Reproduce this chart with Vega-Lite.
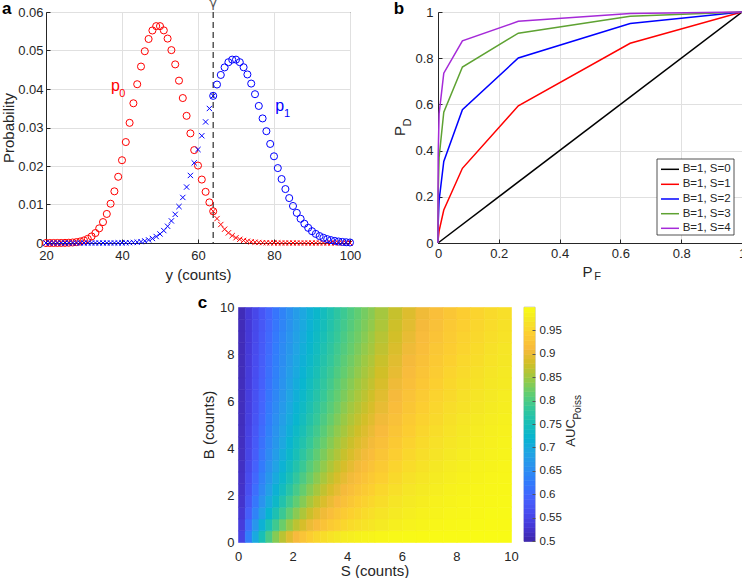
{
"$schema":"https://vega.github.io/schema/vega-lite/v6.json",
"background":"white",
"padding":{"left":0,"top":-4,"right":-3,"bottom":0},
"config":{
 "font":"Liberation Sans",
 "view":{"stroke":null},
 "axis":{"labelFont":"Liberation Sans","labelFontSize":13,"labelColor":"#262626","titleFont":"Liberation Sans","titleFontSize":15,"titleFontWeight":"normal","titleColor":"#262626","domainColor":"#262626","domainWidth":1,"tickColor":"#262626","gridColor":"#e0e0e0","gridWidth":1,"labelOverlap":false,"labelFlush":false},
 "text":{"font":"Liberation Sans"}
},
"datasets":{
"poi":[
{"y":20,"p0":0.0000008,"p1":0},{"y":21,"p0":0.0000018,"p1":0},{"y":22,"p0":0.0000041,"p1":0},{"y":23,"p0":0.0000089,"p1":0},{"y":24,"p0":0.0000185,"p1":0},
{"y":25,"p0":0.0000371,"p1":0},{"y":26,"p0":0.0000713,"p1":0},{"y":27,"p0":0.000132,"p1":0},{"y":28,"p0":0.000236,"p1":0},{"y":29,"p0":0.000406,"p1":0},
{"y":30,"p0":0.000677,"p1":0},{"y":31,"p0":0.001092,"p1":0.0000001},{"y":32,"p0":0.001707,"p1":0.0000001},{"y":33,"p0":0.002586,"p1":0.0000003},{"y":34,"p0":0.003803,"p1":0.0000007},
{"y":35,"p0":0.005433,"p1":0.0000015},{"y":36,"p0":0.007546,"p1":0.0000029},{"y":37,"p0":0.0102,"p1":0.0000054},{"y":38,"p0":0.01342,"p1":0.0000099},{"y":39,"p0":0.0172,"p1":0.0000177},
{"y":40,"p0":0.0215,"p1":0.000031},{"y":41,"p0":0.02622,"p1":0.000053},{"y":42,"p0":0.03121,"p1":0.0000883},{"y":43,"p0":0.03629,"p1":0.000144},{"y":44,"p0":0.04124,"p1":0.000229},
{"y":45,"p0":0.04583,"p1":0.000356},{"y":46,"p0":0.04981,"p1":0.000541},{"y":47,"p0":0.05299,"p1":0.000806},{"y":48,"p0":0.0552,"p1":0.001175},{"y":49,"p0":0.05633,"p1":0.001679},
{"y":50,"p0":0.05633,"p1":0.002351},{"y":51,"p0":0.05523,"p1":0.003227},{"y":52,"p0":0.0531,"p1":0.004344},{"y":53,"p0":0.0501,"p1":0.005738},{"y":54,"p0":0.04639,"p1":0.007438},
{"y":55,"p0":0.04217,"p1":0.009466},{"y":56,"p0":0.03765,"p1":0.01183},{"y":57,"p0":0.03303,"p1":0.01453},{"y":58,"p0":0.02847,"p1":0.01754},{"y":59,"p0":0.02413,"p1":0.02081},
{"y":60,"p0":0.02011,"p1":0.02428},{"y":61,"p0":0.01648,"p1":0.02786},{"y":62,"p0":0.01329,"p1":0.03145},{"y":63,"p0":0.01055,"p1":0.03494},{"y":64,"p0":0.008241,"p1":0.03822},
{"y":65,"p0":0.006339,"p1":0.04116},{"y":66,"p0":0.004802,"p1":0.04365},{"y":67,"p0":0.003584,"p1":0.04561},{"y":68,"p0":0.002635,"p1":0.04695},{"y":69,"p0":0.00191,"p1":0.04763},
{"y":70,"p0":0.001364,"p1":0.04763},{"y":71,"p0":0.000961,"p1":0.04696},{"y":72,"p0":0.000667,"p1":0.04565},{"y":73,"p0":0.000457,"p1":0.04378},{"y":74,"p0":0.000309,"p1":0.04141},
{"y":75,"p0":0.000206,"p1":0.03865},{"y":76,"p0":0.000135,"p1":0.0356},{"y":77,"p0":0.0000878,"p1":0.03236},{"y":78,"p0":0.0000563,"p1":0.02904},{"y":79,"p0":0.0000356,"p1":0.02573},
{"y":80,"p0":0.0000223,"p1":0.02252},{"y":81,"p0":0.0000138,"p1":0.01946},{"y":82,"p0":0.0000084,"p1":0.01661},{"y":83,"p0":0.0000051,"p1":0.01401},{"y":84,"p0":0.000003,"p1":0.01167},
{"y":85,"p0":0.0000018,"p1":0.009614},{"y":86,"p0":0.000001,"p1":0.007825},{"y":87,"p0":0.0000006,"p1":0.006296},{"y":88,"p0":0.0000003,"p1":0.005008},{"y":89,"p0":0.0000002,"p1":0.003939},
{"y":90,"p0":0.0000001,"p1":0.003064},{"y":91,"p0":0.0000001,"p1":0.002357},{"y":92,"p0":0,"p1":0.001793},{"y":93,"p0":0,"p1":0.00135},{"y":94,"p0":0,"p1":0.001005},
{"y":95,"p0":0,"p1":0.000741},{"y":96,"p0":0,"p1":0.00054},{"y":97,"p0":0,"p1":0.00039},{"y":98,"p0":0,"p1":0.000278},{"y":99,"p0":0,"p1":0.000197},{"y":100,"p0":0,"p1":0.000138}
],
"roc":[
{"PF":0,"PD":0,"c":"B=1, S=0"},{"PF":1,"PD":1,"c":"B=1, S=0"},
{"PF":0,"PD":0,"c":"B=1, S=1"},{"PF":0.00008,"PD":0.0045,"c":"B=1, S=1"},{"PF":0.00059,"PD":0.0166,"c":"B=1, S=1"},{"PF":0.00366,"PD":0.0527,"c":"B=1, S=1"},{"PF":0.019,"PD":0.1429,"c":"B=1, S=1"},{"PF":0.0803,"PD":0.3233,"c":"B=1, S=1"},{"PF":0.2642,"PD":0.594,"c":"B=1, S=1"},{"PF":0.6321,"PD":0.8647,"c":"B=1, S=1"},{"PF":1,"PD":1,"c":"B=1, S=1"},
{"PF":0,"PD":0,"c":"B=1, S=2"},{"PF":0.00001,"PD":0.0119,"c":"B=1, S=2"},{"PF":0.00008,"PD":0.0335,"c":"B=1, S=2"},{"PF":0.00059,"PD":0.0839,"c":"B=1, S=2"},{"PF":0.00366,"PD":0.1847,"c":"B=1, S=2"},{"PF":0.019,"PD":0.3528,"c":"B=1, S=2"},{"PF":0.0803,"PD":0.5768,"c":"B=1, S=2"},{"PF":0.2642,"PD":0.8009,"c":"B=1, S=2"},{"PF":0.6321,"PD":0.9502,"c":"B=1, S=2"},{"PF":1,"PD":1,"c":"B=1, S=2"},
{"PF":0,"PD":0,"c":"B=1, S=3"},{"PF":0.00001,"PD":0.0511,"c":"B=1, S=3"},{"PF":0.00008,"PD":0.1107,"c":"B=1, S=3"},{"PF":0.00059,"PD":0.2149,"c":"B=1, S=3"},{"PF":0.00366,"PD":0.3712,"c":"B=1, S=3"},{"PF":0.019,"PD":0.5665,"c":"B=1, S=3"},{"PF":0.0803,"PD":0.7619,"c":"B=1, S=3"},{"PF":0.2642,"PD":0.9084,"c":"B=1, S=3"},{"PF":0.6321,"PD":0.9817,"c":"B=1, S=3"},{"PF":1,"PD":1,"c":"B=1, S=3"},
{"PF":0,"PD":0,"c":"B=1, S=4"},{"PF":0.00001,"PD":0.1334,"c":"B=1, S=4"},{"PF":0.00008,"PD":0.2378,"c":"B=1, S=4"},{"PF":0.00059,"PD":0.384,"c":"B=1, S=4"},{"PF":0.00366,"PD":0.5595,"c":"B=1, S=4"},{"PF":0.019,"PD":0.735,"c":"B=1, S=4"},{"PF":0.0803,"PD":0.8753,"c":"B=1, S=4"},{"PF":0.2642,"PD":0.9596,"c":"B=1, S=4"},{"PF":0.6321,"PD":0.9933,"c":"B=1, S=4"},{"PF":1,"PD":1,"c":"B=1, S=4"}
],
"cb":[
{"v":0.505},{"v":0.515},{"v":0.525},{"v":0.535},{"v":0.545},{"v":0.555},{"v":0.565},{"v":0.575},{"v":0.585},{"v":0.595},
{"v":0.605},{"v":0.615},{"v":0.625},{"v":0.635},{"v":0.645},{"v":0.655},{"v":0.665},{"v":0.675},{"v":0.685},{"v":0.695},
{"v":0.705},{"v":0.715},{"v":0.725},{"v":0.735},{"v":0.745},{"v":0.755},{"v":0.765},{"v":0.775},{"v":0.785},{"v":0.795},
{"v":0.805},{"v":0.815},{"v":0.825},{"v":0.835},{"v":0.845},{"v":0.855},{"v":0.865},{"v":0.875},{"v":0.885},{"v":0.895},
{"v":0.905},{"v":0.915},{"v":0.925},{"v":0.935},{"v":0.945},{"v":0.955},{"v":0.965},{"v":0.975},{"v":0.985},{"v":0.995}
],
"aucf":[
{"s":0.125,"b":0.25,"a":0.548},{"s":0.375,"b":0.25,"a":0.63},{"s":0.625,"b":0.25,"a":0.698},{"s":0.875,"b":0.25,"a":0.753},{"s":1.125,"b":0.25,"a":0.799},{"s":1.375,"b":0.25,"a":0.836},{"s":1.625,"b":0.25,"a":0.867},{"s":1.875,"b":0.25,"a":0.892},{"s":2.125,"b":0.25,"a":0.912},{"s":2.375,"b":0.25,"a":0.928},{"s":2.625,"b":0.25,"a":0.942},{"s":2.875,"b":0.25,"a":0.953},{"s":3.125,"b":0.25,"a":0.962},{"s":3.375,"b":0.25,"a":0.969},{"s":3.625,"b":0.25,"a":0.975},{"s":3.875,"b":0.25,"a":0.98},{"s":4.125,"b":0.25,"a":0.983},{"s":4.375,"b":0.25,"a":0.987},{"s":4.625,"b":0.25,"a":0.989},{"s":4.875,"b":0.25,"a":0.991},
{"s":0.125,"b":0.75,"a":0.539},{"s":0.375,"b":0.75,"a":0.608},{"s":0.625,"b":0.75,"a":0.666},{"s":0.875,"b":0.75,"a":0.715},{"s":1.125,"b":0.75,"a":0.756},{"s":1.375,"b":0.75,"a":0.791},{"s":1.625,"b":0.75,"a":0.821},{"s":1.875,"b":0.75,"a":0.846},{"s":2.125,"b":0.75,"a":0.868},{"s":2.375,"b":0.75,"a":0.886},{"s":2.625,"b":0.75,"a":0.902},{"s":2.875,"b":0.75,"a":0.915},{"s":3.125,"b":0.75,"a":0.927},{"s":3.375,"b":0.75,"a":0.937},{"s":3.625,"b":0.75,"a":0.945},{"s":3.875,"b":0.75,"a":0.953},{"s":4.125,"b":0.75,"a":0.959},{"s":4.375,"b":0.75,"a":0.964},{"s":4.625,"b":0.75,"a":0.969},{"s":4.875,"b":0.75,"a":0.973},
{"s":0.125,"b":1.25,"a":0.531},{"s":0.375,"b":1.25,"a":0.588},{"s":0.625,"b":1.25,"a":0.638},{"s":0.875,"b":1.25,"a":0.683},{"s":1.125,"b":1.25,"a":0.723},{"s":1.375,"b":1.25,"a":0.758},{"s":1.625,"b":1.25,"a":0.788},{"s":1.875,"b":1.25,"a":0.815},{"s":2.125,"b":1.25,"a":0.838},{"s":2.375,"b":1.25,"a":0.859},{"s":2.625,"b":1.25,"a":0.877},{"s":2.875,"b":1.25,"a":0.893},{"s":3.125,"b":1.25,"a":0.906},{"s":3.375,"b":1.25,"a":0.918},{"s":3.625,"b":1.25,"a":0.929},{"s":3.875,"b":1.25,"a":0.938},{"s":4.125,"b":1.25,"a":0.946},{"s":4.375,"b":1.25,"a":0.952},{"s":4.625,"b":1.25,"a":0.959},{"s":4.875,"b":1.25,"a":0.964},
{"s":0.125,"b":1.75,"a":0.526},{"s":0.375,"b":1.75,"a":0.576},{"s":0.625,"b":1.75,"a":0.621},{"s":0.875,"b":1.75,"a":0.662},{"s":1.125,"b":1.75,"a":0.7},{"s":1.375,"b":1.75,"a":0.733},{"s":1.625,"b":1.75,"a":0.764},{"s":1.875,"b":1.75,"a":0.791},{"s":2.125,"b":1.75,"a":0.815},{"s":2.375,"b":1.75,"a":0.836},{"s":2.625,"b":1.75,"a":0.856},{"s":2.875,"b":1.75,"a":0.873},{"s":3.125,"b":1.75,"a":0.888},{"s":3.375,"b":1.75,"a":0.901},{"s":3.625,"b":1.75,"a":0.913},{"s":3.875,"b":1.75,"a":0.923},{"s":4.125,"b":1.75,"a":0.932},{"s":4.375,"b":1.75,"a":0.941},{"s":4.625,"b":1.75,"a":0.948},{"s":4.875,"b":1.75,"a":0.954},
{"s":0.125,"b":2.25,"a":0.523},{"s":0.375,"b":2.25,"a":0.567},{"s":0.625,"b":2.25,"a":0.609},{"s":0.875,"b":2.25,"a":0.647},{"s":1.125,"b":2.25,"a":0.682},{"s":1.375,"b":2.25,"a":0.715},{"s":1.625,"b":2.25,"a":0.744},{"s":1.875,"b":2.25,"a":0.771},{"s":2.125,"b":2.25,"a":0.796},{"s":2.375,"b":2.25,"a":0.818},{"s":2.625,"b":2.25,"a":0.837},{"s":2.875,"b":2.25,"a":0.855},{"s":3.125,"b":2.25,"a":0.871},{"s":3.375,"b":2.25,"a":0.886},{"s":3.625,"b":2.25,"a":0.898},{"s":3.875,"b":2.25,"a":0.91},{"s":4.125,"b":2.25,"a":0.92},{"s":4.375,"b":2.25,"a":0.929},{"s":4.625,"b":2.25,"a":0.937},{"s":4.875,"b":2.25,"a":0.944},
{"s":0.125,"b":2.75,"a":0.521},{"s":0.375,"b":2.75,"a":0.562},{"s":0.625,"b":2.75,"a":0.6},{"s":0.875,"b":2.75,"a":0.636},{"s":1.125,"b":2.75,"a":0.669},{"s":1.375,"b":2.75,"a":0.7},{"s":1.625,"b":2.75,"a":0.729},{"s":1.875,"b":2.75,"a":0.755},{"s":2.125,"b":2.75,"a":0.779},{"s":2.375,"b":2.75,"a":0.801},{"s":2.625,"b":2.75,"a":0.821},{"s":2.875,"b":2.75,"a":0.84},{"s":3.125,"b":2.75,"a":0.856},{"s":3.375,"b":2.75,"a":0.871},{"s":3.625,"b":2.75,"a":0.885},{"s":3.875,"b":2.75,"a":0.897},{"s":4.125,"b":2.75,"a":0.908},{"s":4.375,"b":2.75,"a":0.918},{"s":4.625,"b":2.75,"a":0.927},{"s":4.875,"b":2.75,"a":0.935},
{"s":0.125,"b":3.25,"a":0.519},{"s":0.375,"b":3.25,"a":0.557},{"s":0.625,"b":3.25,"a":0.593},{"s":0.875,"b":3.25,"a":0.626},{"s":1.125,"b":3.25,"a":0.658},{"s":1.375,"b":3.25,"a":0.688},{"s":1.625,"b":3.25,"a":0.716},{"s":1.875,"b":3.25,"a":0.742},{"s":2.125,"b":3.25,"a":0.765},{"s":2.375,"b":3.25,"a":0.787},{"s":2.625,"b":3.25,"a":0.808},{"s":2.875,"b":3.25,"a":0.826},{"s":3.125,"b":3.25,"a":0.843},{"s":3.375,"b":3.25,"a":0.859},{"s":3.625,"b":3.25,"a":0.873},{"s":3.875,"b":3.25,"a":0.886},{"s":4.125,"b":3.25,"a":0.897},{"s":4.375,"b":3.25,"a":0.908},{"s":4.625,"b":3.25,"a":0.917},{"s":4.875,"b":3.25,"a":0.926},
{"s":0.125,"b":3.75,"a":0.518},{"s":0.375,"b":3.75,"a":0.553},{"s":0.625,"b":3.75,"a":0.587},{"s":0.875,"b":3.75,"a":0.619},{"s":1.125,"b":3.75,"a":0.649},{"s":1.375,"b":3.75,"a":0.678},{"s":1.625,"b":3.75,"a":0.705},{"s":1.875,"b":3.75,"a":0.73},{"s":2.125,"b":3.75,"a":0.753},{"s":2.375,"b":3.75,"a":0.775},{"s":2.625,"b":3.75,"a":0.795},{"s":2.875,"b":3.75,"a":0.814},{"s":3.125,"b":3.75,"a":0.831},{"s":3.375,"b":3.75,"a":0.847},{"s":3.625,"b":3.75,"a":0.861},{"s":3.875,"b":3.75,"a":0.875},{"s":4.125,"b":3.75,"a":0.887},{"s":4.375,"b":3.75,"a":0.898},{"s":4.625,"b":3.75,"a":0.908},{"s":4.875,"b":3.75,"a":0.917},
{"s":0.125,"b":4.25,"a":0.517},{"s":0.375,"b":4.25,"a":0.55},{"s":0.625,"b":4.25,"a":0.582},{"s":0.875,"b":4.25,"a":0.613},{"s":1.125,"b":4.25,"a":0.642},{"s":1.375,"b":4.25,"a":0.669},{"s":1.625,"b":4.25,"a":0.695},{"s":1.875,"b":4.25,"a":0.72},{"s":2.125,"b":4.25,"a":0.743},{"s":2.375,"b":4.25,"a":0.764},{"s":2.625,"b":4.25,"a":0.784},{"s":2.875,"b":4.25,"a":0.803},{"s":3.125,"b":4.25,"a":0.82},{"s":3.375,"b":4.25,"a":0.836},{"s":3.625,"b":4.25,"a":0.851},{"s":3.875,"b":4.25,"a":0.865},{"s":4.125,"b":4.25,"a":0.877},{"s":4.375,"b":4.25,"a":0.889},{"s":4.625,"b":4.25,"a":0.899},{"s":4.875,"b":4.25,"a":0.909},
{"s":0.125,"b":4.75,"a":0.516},{"s":0.375,"b":4.75,"a":0.548},{"s":0.625,"b":4.75,"a":0.578},{"s":0.875,"b":4.75,"a":0.607},{"s":1.125,"b":4.75,"a":0.635},{"s":1.375,"b":4.75,"a":0.662},{"s":1.625,"b":4.75,"a":0.687},{"s":1.875,"b":4.75,"a":0.711},{"s":2.125,"b":4.75,"a":0.734},{"s":2.375,"b":4.75,"a":0.755},{"s":2.625,"b":4.75,"a":0.775},{"s":2.875,"b":4.75,"a":0.793},{"s":3.125,"b":4.75,"a":0.81},{"s":3.375,"b":4.75,"a":0.827},{"s":3.625,"b":4.75,"a":0.842},{"s":3.875,"b":4.75,"a":0.855},{"s":4.125,"b":4.75,"a":0.868},{"s":4.375,"b":4.75,"a":0.88},{"s":4.625,"b":4.75,"a":0.891},{"s":4.875,"b":4.75,"a":0.901},
{"s":0.125,"b":5.25,"a":0.515},{"s":0.375,"b":5.25,"a":0.545},{"s":0.625,"b":5.25,"a":0.574},{"s":0.875,"b":5.25,"a":0.602},{"s":1.125,"b":5.25,"a":0.629},{"s":1.375,"b":5.25,"a":0.655},{"s":1.625,"b":5.25,"a":0.68},{"s":1.875,"b":5.25,"a":0.703},{"s":2.125,"b":5.25,"a":0.725},{"s":2.375,"b":5.25,"a":0.746},{"s":2.625,"b":5.25,"a":0.766},{"s":2.875,"b":5.25,"a":0.784},{"s":3.125,"b":5.25,"a":0.801},{"s":3.375,"b":5.25,"a":0.818},{"s":3.625,"b":5.25,"a":0.833},{"s":3.875,"b":5.25,"a":0.847},{"s":4.125,"b":5.25,"a":0.86},{"s":4.375,"b":5.25,"a":0.872},{"s":4.625,"b":5.25,"a":0.883},{"s":4.875,"b":5.25,"a":0.893},
{"s":0.125,"b":5.75,"a":0.515},{"s":0.375,"b":5.75,"a":0.543},{"s":0.625,"b":5.75,"a":0.571},{"s":0.875,"b":5.75,"a":0.598},{"s":1.125,"b":5.75,"a":0.624},{"s":1.375,"b":5.75,"a":0.649},{"s":1.625,"b":5.75,"a":0.673},{"s":1.875,"b":5.75,"a":0.696},{"s":2.125,"b":5.75,"a":0.718},{"s":2.375,"b":5.75,"a":0.738},{"s":2.625,"b":5.75,"a":0.758},{"s":2.875,"b":5.75,"a":0.776},{"s":3.125,"b":5.75,"a":0.793},{"s":3.375,"b":5.75,"a":0.809},{"s":3.625,"b":5.75,"a":0.824},{"s":3.875,"b":5.75,"a":0.839},{"s":4.125,"b":5.75,"a":0.852},{"s":4.375,"b":5.75,"a":0.864},{"s":4.625,"b":5.75,"a":0.875},{"s":4.875,"b":5.75,"a":0.886},
{"s":0.125,"b":6.25,"a":0.514},{"s":0.375,"b":6.25,"a":0.542},{"s":0.625,"b":6.25,"a":0.569},{"s":0.875,"b":6.25,"a":0.595},{"s":1.125,"b":6.25,"a":0.62},{"s":1.375,"b":6.25,"a":0.644},{"s":1.625,"b":6.25,"a":0.667},{"s":1.875,"b":6.25,"a":0.69},{"s":2.125,"b":6.25,"a":0.711},{"s":2.375,"b":6.25,"a":0.731},{"s":2.625,"b":6.25,"a":0.75},{"s":2.875,"b":6.25,"a":0.768},{"s":3.125,"b":6.25,"a":0.785},{"s":3.375,"b":6.25,"a":0.802},{"s":3.625,"b":6.25,"a":0.817},{"s":3.875,"b":6.25,"a":0.831},{"s":4.125,"b":6.25,"a":0.844},{"s":4.375,"b":6.25,"a":0.857},{"s":4.625,"b":6.25,"a":0.868},{"s":4.875,"b":6.25,"a":0.879},
{"s":0.125,"b":6.75,"a":0.514},{"s":0.375,"b":6.75,"a":0.54},{"s":0.625,"b":6.75,"a":0.566},{"s":0.875,"b":6.75,"a":0.591},{"s":1.125,"b":6.75,"a":0.616},{"s":1.375,"b":6.75,"a":0.639},{"s":1.625,"b":6.75,"a":0.662},{"s":1.875,"b":6.75,"a":0.684},{"s":2.125,"b":6.75,"a":0.705},{"s":2.375,"b":6.75,"a":0.724},{"s":2.625,"b":6.75,"a":0.743},{"s":2.875,"b":6.75,"a":0.761},{"s":3.125,"b":6.75,"a":0.778},{"s":3.375,"b":6.75,"a":0.794},{"s":3.625,"b":6.75,"a":0.81},{"s":3.875,"b":6.75,"a":0.824},{"s":4.125,"b":6.75,"a":0.837},{"s":4.375,"b":6.75,"a":0.85},{"s":4.625,"b":6.75,"a":0.861},{"s":4.875,"b":6.75,"a":0.872},
{"s":0.125,"b":7.25,"a":0.513},{"s":0.375,"b":7.25,"a":0.539},{"s":0.625,"b":7.25,"a":0.564},{"s":0.875,"b":7.25,"a":0.588},{"s":1.125,"b":7.25,"a":0.612},{"s":1.375,"b":7.25,"a":0.635},{"s":1.625,"b":7.25,"a":0.657},{"s":1.875,"b":7.25,"a":0.679},{"s":2.125,"b":7.25,"a":0.699},{"s":2.375,"b":7.25,"a":0.718},{"s":2.625,"b":7.25,"a":0.737},{"s":2.875,"b":7.25,"a":0.755},{"s":3.125,"b":7.25,"a":0.772},{"s":3.375,"b":7.25,"a":0.788},{"s":3.625,"b":7.25,"a":0.803},{"s":3.875,"b":7.25,"a":0.817},{"s":4.125,"b":7.25,"a":0.83},{"s":4.375,"b":7.25,"a":0.843},{"s":4.625,"b":7.25,"a":0.855},{"s":4.875,"b":7.25,"a":0.866},
{"s":0.125,"b":7.75,"a":0.513},{"s":0.375,"b":7.75,"a":0.538},{"s":0.625,"b":7.75,"a":0.562},{"s":0.875,"b":7.75,"a":0.586},{"s":1.125,"b":7.75,"a":0.609},{"s":1.375,"b":7.75,"a":0.631},{"s":1.625,"b":7.75,"a":0.653},{"s":1.875,"b":7.75,"a":0.674},{"s":2.125,"b":7.75,"a":0.694},{"s":2.375,"b":7.75,"a":0.713},{"s":2.625,"b":7.75,"a":0.731},{"s":2.875,"b":7.75,"a":0.749},{"s":3.125,"b":7.75,"a":0.766},{"s":3.375,"b":7.75,"a":0.781},{"s":3.625,"b":7.75,"a":0.796},{"s":3.875,"b":7.75,"a":0.811},{"s":4.125,"b":7.75,"a":0.824},{"s":4.375,"b":7.75,"a":0.837},{"s":4.625,"b":7.75,"a":0.849},{"s":4.875,"b":7.75,"a":0.86},
{"s":0.125,"b":8.25,"a":0.512},{"s":0.375,"b":8.25,"a":0.536},{"s":0.625,"b":8.25,"a":0.56},{"s":0.875,"b":8.25,"a":0.583},{"s":1.125,"b":8.25,"a":0.606},{"s":1.375,"b":8.25,"a":0.628},{"s":1.625,"b":8.25,"a":0.649},{"s":1.875,"b":8.25,"a":0.669},{"s":2.125,"b":8.25,"a":0.689},{"s":2.375,"b":8.25,"a":0.708},{"s":2.625,"b":8.25,"a":0.726},{"s":2.875,"b":8.25,"a":0.743},{"s":3.125,"b":8.25,"a":0.76},{"s":3.375,"b":8.25,"a":0.776},{"s":3.625,"b":8.25,"a":0.791},{"s":3.875,"b":8.25,"a":0.805},{"s":4.125,"b":8.25,"a":0.818},{"s":4.375,"b":8.25,"a":0.831},{"s":4.625,"b":8.25,"a":0.843},{"s":4.875,"b":8.25,"a":0.854},
{"s":0.125,"b":8.75,"a":0.512},{"s":0.375,"b":8.75,"a":0.535},{"s":0.625,"b":8.75,"a":0.558},{"s":0.875,"b":8.75,"a":0.581},{"s":1.125,"b":8.75,"a":0.603},{"s":1.375,"b":8.75,"a":0.624},{"s":1.625,"b":8.75,"a":0.645},{"s":1.875,"b":8.75,"a":0.665},{"s":2.125,"b":8.75,"a":0.684},{"s":2.375,"b":8.75,"a":0.703},{"s":2.625,"b":8.75,"a":0.721},{"s":2.875,"b":8.75,"a":0.738},{"s":3.125,"b":8.75,"a":0.754},{"s":3.375,"b":8.75,"a":0.77},{"s":3.625,"b":8.75,"a":0.785},{"s":3.875,"b":8.75,"a":0.799},{"s":4.125,"b":8.75,"a":0.813},{"s":4.375,"b":8.75,"a":0.825},{"s":4.625,"b":8.75,"a":0.837},{"s":4.875,"b":8.75,"a":0.849},
{"s":0.125,"b":9.25,"a":0.512},{"s":0.375,"b":9.25,"a":0.534},{"s":0.625,"b":9.25,"a":0.557},{"s":0.875,"b":9.25,"a":0.579},{"s":1.125,"b":9.25,"a":0.6},{"s":1.375,"b":9.25,"a":0.621},{"s":1.625,"b":9.25,"a":0.641},{"s":1.875,"b":9.25,"a":0.661},{"s":2.125,"b":9.25,"a":0.68},{"s":2.375,"b":9.25,"a":0.698},{"s":2.625,"b":9.25,"a":0.716},{"s":2.875,"b":9.25,"a":0.733},{"s":3.125,"b":9.25,"a":0.749},{"s":3.375,"b":9.25,"a":0.765},{"s":3.625,"b":9.25,"a":0.78},{"s":3.875,"b":9.25,"a":0.794},{"s":4.125,"b":9.25,"a":0.807},{"s":4.375,"b":9.25,"a":0.82},{"s":4.625,"b":9.25,"a":0.832},{"s":4.875,"b":9.25,"a":0.843},
{"s":0.125,"b":9.75,"a":0.511},{"s":0.375,"b":9.75,"a":0.534},{"s":0.625,"b":9.75,"a":0.555},{"s":0.875,"b":9.75,"a":0.577},{"s":1.125,"b":9.75,"a":0.598},{"s":1.375,"b":9.75,"a":0.618},{"s":1.625,"b":9.75,"a":0.638},{"s":1.875,"b":9.75,"a":0.657},{"s":2.125,"b":9.75,"a":0.676},{"s":2.375,"b":9.75,"a":0.694},{"s":2.625,"b":9.75,"a":0.712},{"s":2.875,"b":9.75,"a":0.728},{"s":3.125,"b":9.75,"a":0.744},{"s":3.375,"b":9.75,"a":0.76},{"s":3.625,"b":9.75,"a":0.775},{"s":3.875,"b":9.75,"a":0.789},{"s":4.125,"b":9.75,"a":0.802},{"s":4.375,"b":9.75,"a":0.815},{"s":4.625,"b":9.75,"a":0.827},{"s":4.875,"b":9.75,"a":0.838}
],
"aucc":[
{"s":5.25,"b":0.25,"a":0.994},{"s":5.75,"b":0.25,"a":0.996},{"s":6.25,"b":0.25,"a":0.997},{"s":6.75,"b":0.25,"a":0.998},{"s":7.25,"b":0.25,"a":0.999},{"s":7.75,"b":0.25,"a":0.999},{"s":8.25,"b":0.25,"a":0.999},{"s":8.75,"b":0.25,"a":1},{"s":9.25,"b":0.25,"a":1},{"s":9.75,"b":0.25,"a":1},
{"s":5.25,"b":0.75,"a":0.978},{"s":5.75,"b":0.75,"a":0.984},{"s":6.25,"b":0.75,"a":0.988},{"s":6.75,"b":0.75,"a":0.991},{"s":7.25,"b":0.75,"a":0.993},{"s":7.75,"b":0.75,"a":0.995},{"s":8.25,"b":0.75,"a":0.996},{"s":8.75,"b":0.75,"a":0.997},{"s":9.25,"b":0.75,"a":0.998},{"s":9.75,"b":0.75,"a":0.998},
{"s":5.25,"b":1.25,"a":0.97},{"s":5.75,"b":1.25,"a":0.977},{"s":6.25,"b":1.25,"a":0.983},{"s":6.75,"b":1.25,"a":0.987},{"s":7.25,"b":1.25,"a":0.99},{"s":7.75,"b":1.25,"a":0.992},{"s":8.25,"b":1.25,"a":0.994},{"s":8.75,"b":1.25,"a":0.995},{"s":9.25,"b":1.25,"a":0.997},{"s":9.75,"b":1.25,"a":0.997},
{"s":5.25,"b":1.75,"a":0.962},{"s":5.75,"b":1.75,"a":0.971},{"s":6.25,"b":1.75,"a":0.977},{"s":6.75,"b":1.75,"a":0.982},{"s":7.25,"b":1.75,"a":0.987},{"s":7.75,"b":1.75,"a":0.99},{"s":8.25,"b":1.75,"a":0.992},{"s":8.75,"b":1.75,"a":0.994},{"s":9.25,"b":1.75,"a":0.995},{"s":9.75,"b":1.75,"a":0.996},
{"s":5.25,"b":2.25,"a":0.954},{"s":5.75,"b":2.25,"a":0.964},{"s":6.25,"b":2.25,"a":0.972},{"s":6.75,"b":2.25,"a":0.978},{"s":7.25,"b":2.25,"a":0.983},{"s":7.75,"b":2.25,"a":0.987},{"s":8.25,"b":2.25,"a":0.99},{"s":8.75,"b":2.25,"a":0.992},{"s":9.25,"b":2.25,"a":0.994},{"s":9.75,"b":2.25,"a":0.995},
{"s":5.25,"b":2.75,"a":0.945},{"s":5.75,"b":2.75,"a":0.957},{"s":6.25,"b":2.75,"a":0.966},{"s":6.75,"b":2.75,"a":0.973},{"s":7.25,"b":2.75,"a":0.979},{"s":7.75,"b":2.75,"a":0.983},{"s":8.25,"b":2.75,"a":0.987},{"s":8.75,"b":2.75,"a":0.99},{"s":9.25,"b":2.75,"a":0.992},{"s":9.75,"b":2.75,"a":0.994},
{"s":5.25,"b":3.25,"a":0.937},{"s":5.75,"b":3.25,"a":0.95},{"s":6.25,"b":3.25,"a":0.96},{"s":6.75,"b":3.25,"a":0.968},{"s":7.25,"b":3.25,"a":0.975},{"s":7.75,"b":3.25,"a":0.98},{"s":8.25,"b":3.25,"a":0.984},{"s":8.75,"b":3.25,"a":0.988},{"s":9.25,"b":3.25,"a":0.99},{"s":9.75,"b":3.25,"a":0.992},
{"s":5.25,"b":3.75,"a":0.929},{"s":5.75,"b":3.75,"a":0.943},{"s":6.25,"b":3.75,"a":0.954},{"s":6.75,"b":3.75,"a":0.963},{"s":7.25,"b":3.75,"a":0.97},{"s":7.75,"b":3.75,"a":0.976},{"s":8.25,"b":3.75,"a":0.981},{"s":8.75,"b":3.75,"a":0.985},{"s":9.25,"b":3.75,"a":0.988},{"s":9.75,"b":3.75,"a":0.991},
{"s":5.25,"b":4.25,"a":0.922},{"s":5.75,"b":4.25,"a":0.936},{"s":6.25,"b":4.25,"a":0.948},{"s":6.75,"b":4.25,"a":0.958},{"s":7.25,"b":4.25,"a":0.966},{"s":7.75,"b":4.25,"a":0.973},{"s":8.25,"b":4.25,"a":0.978},{"s":8.75,"b":4.25,"a":0.983},{"s":9.25,"b":4.25,"a":0.986},{"s":9.75,"b":4.25,"a":0.989},
{"s":5.25,"b":4.75,"a":0.914},{"s":5.75,"b":4.75,"a":0.93},{"s":6.25,"b":4.75,"a":0.942},{"s":6.75,"b":4.75,"a":0.953},{"s":7.25,"b":4.75,"a":0.962},{"s":7.75,"b":4.75,"a":0.969},{"s":8.25,"b":4.75,"a":0.975},{"s":8.75,"b":4.75,"a":0.98},{"s":9.25,"b":4.75,"a":0.984},{"s":9.75,"b":4.75,"a":0.987},
{"s":5.25,"b":5.25,"a":0.907},{"s":5.75,"b":5.25,"a":0.923},{"s":6.25,"b":5.25,"a":0.937},{"s":6.75,"b":5.25,"a":0.948},{"s":7.25,"b":5.25,"a":0.957},{"s":7.75,"b":5.25,"a":0.965},{"s":8.25,"b":5.25,"a":0.972},{"s":8.75,"b":5.25,"a":0.977},{"s":9.25,"b":5.25,"a":0.981},{"s":9.75,"b":5.25,"a":0.985},
{"s":5.25,"b":5.75,"a":0.9},{"s":5.75,"b":5.75,"a":0.917},{"s":6.25,"b":5.75,"a":0.931},{"s":6.75,"b":5.75,"a":0.943},{"s":7.25,"b":5.75,"a":0.953},{"s":7.75,"b":5.75,"a":0.961},{"s":8.25,"b":5.75,"a":0.968},{"s":8.75,"b":5.75,"a":0.974},{"s":9.25,"b":5.75,"a":0.979},{"s":9.75,"b":5.75,"a":0.983},
{"s":5.25,"b":6.25,"a":0.894},{"s":5.75,"b":6.25,"a":0.911},{"s":6.25,"b":6.25,"a":0.926},{"s":6.75,"b":6.25,"a":0.938},{"s":7.25,"b":6.25,"a":0.949},{"s":7.75,"b":6.25,"a":0.957},{"s":8.25,"b":6.25,"a":0.965},{"s":8.75,"b":6.25,"a":0.971},{"s":9.25,"b":6.25,"a":0.976},{"s":9.75,"b":6.25,"a":0.981},
{"s":5.25,"b":6.75,"a":0.887},{"s":5.75,"b":6.75,"a":0.905},{"s":6.25,"b":6.75,"a":0.92},{"s":6.75,"b":6.75,"a":0.933},{"s":7.25,"b":6.75,"a":0.944},{"s":7.75,"b":6.75,"a":0.954},{"s":8.25,"b":6.75,"a":0.962},{"s":8.75,"b":6.75,"a":0.968},{"s":9.25,"b":6.75,"a":0.974},{"s":9.75,"b":6.75,"a":0.978},
{"s":5.25,"b":7.25,"a":0.881},{"s":5.75,"b":7.25,"a":0.899},{"s":6.25,"b":7.25,"a":0.915},{"s":6.75,"b":7.25,"a":0.928},{"s":7.25,"b":7.25,"a":0.94},{"s":7.75,"b":7.25,"a":0.95},{"s":8.25,"b":7.25,"a":0.958},{"s":8.75,"b":7.25,"a":0.965},{"s":9.25,"b":7.25,"a":0.971},{"s":9.75,"b":7.25,"a":0.976},
{"s":5.25,"b":7.75,"a":0.876},{"s":5.75,"b":7.75,"a":0.894},{"s":6.25,"b":7.75,"a":0.91},{"s":6.75,"b":7.75,"a":0.924},{"s":7.25,"b":7.75,"a":0.936},{"s":7.75,"b":7.75,"a":0.946},{"s":8.25,"b":7.75,"a":0.955},{"s":8.75,"b":7.75,"a":0.962},{"s":9.25,"b":7.75,"a":0.969},{"s":9.75,"b":7.75,"a":0.974},
{"s":5.25,"b":8.25,"a":0.87},{"s":5.75,"b":8.25,"a":0.888},{"s":6.25,"b":8.25,"a":0.905},{"s":6.75,"b":8.25,"a":0.919},{"s":7.25,"b":8.25,"a":0.932},{"s":7.75,"b":8.25,"a":0.942},{"s":8.25,"b":8.25,"a":0.951},{"s":8.75,"b":8.25,"a":0.959},{"s":9.25,"b":8.25,"a":0.966},{"s":9.75,"b":8.25,"a":0.972},
{"s":5.25,"b":8.75,"a":0.865},{"s":5.75,"b":8.75,"a":0.883},{"s":6.25,"b":8.75,"a":0.9},{"s":6.75,"b":8.75,"a":0.915},{"s":7.25,"b":8.75,"a":0.927},{"s":7.75,"b":8.75,"a":0.938},{"s":8.25,"b":8.75,"a":0.948},{"s":8.75,"b":8.75,"a":0.956},{"s":9.25,"b":8.75,"a":0.963},{"s":9.75,"b":8.75,"a":0.969},
{"s":5.25,"b":9.25,"a":0.859},{"s":5.75,"b":9.25,"a":0.879},{"s":6.25,"b":9.25,"a":0.895},{"s":6.75,"b":9.25,"a":0.91},{"s":7.25,"b":9.25,"a":0.923},{"s":7.75,"b":9.25,"a":0.935},{"s":8.25,"b":9.25,"a":0.945},{"s":8.75,"b":9.25,"a":0.953},{"s":9.25,"b":9.25,"a":0.96},{"s":9.75,"b":9.25,"a":0.967},
{"s":5.25,"b":9.75,"a":0.854},{"s":5.75,"b":9.75,"a":0.874},{"s":6.25,"b":9.75,"a":0.891},{"s":6.75,"b":9.75,"a":0.906},{"s":7.25,"b":9.75,"a":0.92},{"s":7.75,"b":9.75,"a":0.931},{"s":8.25,"b":9.75,"a":0.941},{"s":8.75,"b":9.75,"a":0.95},{"s":9.25,"b":9.75,"a":0.958},{"s":9.75,"b":9.75,"a":0.964}
]
},
"spacing":11,
"vconcat":[
{"bounds":"flush","spacing":88,"hconcat":[
 {"width":304,"height":231,"view":{"stroke":"#262626","strokeWidth":1},
  "layer":[
   {"data":{"values":[{}]},"mark":{"type":"rule","color":"#3c3c3c","strokeDash":[6,4],"strokeWidth":1.3},"encoding":{"x":{"datum":64,"type":"quantitative","scale":{"domain":[20,100],"nice":false,"zero":false}}}},
   {"data":{"name":"poi"},"transform":[{"filter":"datum.y <= 64"}],
    "mark":{"type":"point","shape":"circle","filled":false,"color":"#ff0000","size":50,"strokeWidth":1,"opacity":1},
    "encoding":{
     "x":{"field":"y","type":"quantitative","scale":{"domain":[20,100],"nice":false,"zero":false},"axis":{"title":"y (counts)","values":[20,40,60,80,100],"tickCount":10,"grid":true,"tickSize":-4,"labelPadding":10,"titleY":36,"titleBaseline":"alphabetic","labelOverlap":false}},
     "y":{"field":"p0","type":"quantitative","scale":{"domain":[0,0.06],"nice":false,"zero":false},"axis":{"title":"Probability","values":[0,0.01,0.02,0.03,0.04,0.05,0.06],"tickCount":10,"format":".2~f","grid":true,"tickSize":-4,"labelPadding":7,"titleX":-33,"titleBaseline":"alphabetic","labelOverlap":false}}}},
   {"data":{"name":"poi"},"transform":[{"filter":"datum.y >= 64"}],
    "mark":{"type":"point","shape":"M-1,-1L1,1M-1,1L1,-1","filled":false,"color":"#ff0000","size":28,"strokeWidth":1,"opacity":1},
    "encoding":{
     "x":{"field":"y","type":"quantitative","scale":{"domain":[20,100],"nice":false,"zero":false},"axis":{"title":"y (counts)","values":[20,40,60,80,100],"tickCount":10,"grid":true,"tickSize":-4,"labelPadding":10,"titleY":36,"titleBaseline":"alphabetic","labelOverlap":false}},
     "y":{"field":"p0","type":"quantitative","scale":{"domain":[0,0.06],"nice":false,"zero":false},"axis":{"title":"Probability","values":[0,0.01,0.02,0.03,0.04,0.05,0.06],"tickCount":10,"format":".2~f","grid":true,"tickSize":-4,"labelPadding":7,"titleX":-33,"titleBaseline":"alphabetic","labelOverlap":false}}}},
   {"data":{"name":"poi"},"transform":[{"filter":"datum.y <= 64"}],
    "mark":{"type":"point","shape":"M-1,-1L1,1M-1,1L1,-1","filled":false,"color":"#0000ff","size":28,"strokeWidth":1,"opacity":1},
    "encoding":{
     "x":{"field":"y","type":"quantitative","scale":{"domain":[20,100],"nice":false,"zero":false},"axis":{"title":"y (counts)","values":[20,40,60,80,100],"tickCount":10,"grid":true,"tickSize":-4,"labelPadding":10,"titleY":36,"titleBaseline":"alphabetic","labelOverlap":false}},
     "y":{"field":"p1","type":"quantitative","scale":{"domain":[0,0.06],"nice":false,"zero":false},"axis":{"title":"Probability","values":[0,0.01,0.02,0.03,0.04,0.05,0.06],"tickCount":10,"format":".2~f","grid":true,"tickSize":-4,"labelPadding":7,"titleX":-33,"titleBaseline":"alphabetic","labelOverlap":false}}}},
   {"data":{"name":"poi"},"transform":[{"filter":"datum.y >= 64"}],
    "mark":{"type":"point","shape":"circle","filled":false,"color":"#0000ff","size":50,"strokeWidth":1,"opacity":1},
    "encoding":{
     "x":{"field":"y","type":"quantitative","scale":{"domain":[20,100],"nice":false,"zero":false},"axis":{"title":"y (counts)","values":[20,40,60,80,100],"tickCount":10,"grid":true,"tickSize":-4,"labelPadding":10,"titleY":36,"titleBaseline":"alphabetic","labelOverlap":false}},
     "y":{"field":"p1","type":"quantitative","scale":{"domain":[0,0.06],"nice":false,"zero":false},"axis":{"title":"Probability","values":[0,0.01,0.02,0.03,0.04,0.05,0.06],"tickCount":10,"format":".2~f","grid":true,"tickSize":-4,"labelPadding":7,"titleX":-33,"titleBaseline":"alphabetic","labelOverlap":false}}}},
   {"data":{"values":[{}]},"mark":{"type":"text","text":"γ","font":"DejaVu Sans","fontSize":13,"color":"#555555","align":"center","baseline":"alphabetic"},"encoding":{"x":{"datum":64,"type":"quantitative","scale":{"domain":[20,100],"nice":false,"zero":false}},"y":{"datum":0.0612,"type":"quantitative","scale":{"domain":[0,0.06],"nice":false,"zero":false}}}},
   {"data":{"values":[{}]},"mark":{"type":"text","text":"p","fontSize":16,"color":"#ff0000","align":"left","baseline":"alphabetic"},"encoding":{"x":{"datum":37.1,"type":"quantitative","scale":{"domain":[20,100],"nice":false,"zero":false}},"y":{"datum":0.0395,"type":"quantitative","scale":{"domain":[0,0.06],"nice":false,"zero":false}}}},
   {"data":{"values":[{}]},"mark":{"type":"text","text":"0","fontSize":11,"color":"#ff0000","align":"left","baseline":"alphabetic"},"encoding":{"x":{"datum":39.3,"type":"quantitative","scale":{"domain":[20,100],"nice":false,"zero":false}},"y":{"datum":0.0379,"type":"quantitative","scale":{"domain":[0,0.06],"nice":false,"zero":false}}}},
   {"data":{"values":[{}]},"mark":{"type":"text","text":"p","fontSize":16,"color":"#0000ff","align":"left","baseline":"alphabetic"},"encoding":{"x":{"datum":80.3,"type":"quantitative","scale":{"domain":[20,100],"nice":false,"zero":false}},"y":{"datum":0.0343,"type":"quantitative","scale":{"domain":[0,0.06],"nice":false,"zero":false}}}},
   {"data":{"values":[{}]},"mark":{"type":"text","text":"1","fontSize":11,"color":"#0000ff","align":"left","baseline":"alphabetic"},"encoding":{"x":{"datum":82.6,"type":"quantitative","scale":{"domain":[20,100],"nice":false,"zero":false}},"y":{"datum":0.0327,"type":"quantitative","scale":{"domain":[0,0.06],"nice":false,"zero":false}}}},
   {"data":{"values":[{}]},"mark":{"type":"text","text":"a","fontSize":17,"fontWeight":"bold","color":"#000000","align":"left","baseline":"alphabetic"},"encoding":{"x":{"datum":8.42,"type":"quantitative","scale":{"domain":[20,100],"nice":false,"zero":false}},"y":{"datum":0.0595,"type":"quantitative","scale":{"domain":[0,0.06],"nice":false,"zero":false}}}}
  ]},
 {"width":304,"height":231,"view":{"stroke":"#262626","strokeWidth":1},
  "layer":[
   {"data":{"name":"roc"},"mark":{"type":"line","strokeWidth":1.5},
    "encoding":{
     "x":{"field":"PF","type":"quantitative","scale":{"domain":[0,1],"nice":false,"zero":false},"axis":{"title":null,"values":[0,0.2,0.4,0.6,0.8,1],"tickCount":10,"format":".1~f","grid":true,"tickSize":-4,"labelPadding":8}},
     "y":{"field":"PD","type":"quantitative","scale":{"domain":[0,1],"nice":false,"zero":false},"axis":{"title":null,"values":[0,0.2,0.4,0.6,0.8,1],"tickCount":10,"format":".1~f","grid":true,"tickSize":-4,"labelPadding":9}},
     "color":{"field":"c","type":"nominal","scale":{"domain":["B=1, S=0","B=1, S=1","B=1, S=2","B=1, S=3","B=1, S=4"],"range":["#000000","#ff0000","#0000ff","#5ea232","#a52ad8"]},"legend":null}}},
   {"data":{"values":[{}]},"mark":{"type":"rect","fill":"white","stroke":"#262626","strokeWidth":0.8},"encoding":{"x":{"datum":0.7204,"type":"quantitative","scale":{"domain":[0,1],"nice":false,"zero":false}},"x2":{"datum":0.9737},"y":{"datum":0.3636,"type":"quantitative","scale":{"domain":[0,1],"nice":false,"zero":false}},"y2":{"datum":0.0346}}},
   {"data":{"values":[{}]},"mark":{"type":"rule","color":"#000000","strokeWidth":1.5},"encoding":{"x":{"datum":0.7336,"type":"quantitative","scale":{"domain":[0,1],"nice":false,"zero":false}},"x2":{"datum":0.7928},"y":{"datum":0.319,"type":"quantitative","scale":{"domain":[0,1],"nice":false,"zero":false}}}},
   {"data":{"values":[{}]},"mark":{"type":"rule","color":"#ff0000","strokeWidth":1.5},"encoding":{"x":{"datum":0.7336,"type":"quantitative","scale":{"domain":[0,1],"nice":false,"zero":false}},"x2":{"datum":0.7928},"y":{"datum":0.2541,"type":"quantitative","scale":{"domain":[0,1],"nice":false,"zero":false}}}},
   {"data":{"values":[{}]},"mark":{"type":"rule","color":"#0000ff","strokeWidth":1.5},"encoding":{"x":{"datum":0.7336,"type":"quantitative","scale":{"domain":[0,1],"nice":false,"zero":false}},"x2":{"datum":0.7928},"y":{"datum":0.1905,"type":"quantitative","scale":{"domain":[0,1],"nice":false,"zero":false}}}},
   {"data":{"values":[{}]},"mark":{"type":"rule","color":"#5ea232","strokeWidth":1.5},"encoding":{"x":{"datum":0.7336,"type":"quantitative","scale":{"domain":[0,1],"nice":false,"zero":false}},"x2":{"datum":0.7928},"y":{"datum":0.1268,"type":"quantitative","scale":{"domain":[0,1],"nice":false,"zero":false}}}},
   {"data":{"values":[{}]},"mark":{"type":"rule","color":"#a52ad8","strokeWidth":1.5},"encoding":{"x":{"datum":0.7336,"type":"quantitative","scale":{"domain":[0,1],"nice":false,"zero":false}},"x2":{"datum":0.7928},"y":{"datum":0.0636,"type":"quantitative","scale":{"domain":[0,1],"nice":false,"zero":false}}}},
   {"data":{"values":[{}]},"mark":{"type":"text","text":"B=1, S=0","fontSize":11.5,"color":"#262626","align":"left","baseline":"middle"},"encoding":{"x":{"datum":0.8049,"type":"quantitative","scale":{"domain":[0,1],"nice":false,"zero":false}},"y":{"datum":0.319,"type":"quantitative","scale":{"domain":[0,1],"nice":false,"zero":false}}}},
   {"data":{"values":[{}]},"mark":{"type":"text","text":"B=1, S=1","fontSize":11.5,"color":"#262626","align":"left","baseline":"middle"},"encoding":{"x":{"datum":0.8049,"type":"quantitative","scale":{"domain":[0,1],"nice":false,"zero":false}},"y":{"datum":0.2541,"type":"quantitative","scale":{"domain":[0,1],"nice":false,"zero":false}}}},
   {"data":{"values":[{}]},"mark":{"type":"text","text":"B=1, S=2","fontSize":11.5,"color":"#262626","align":"left","baseline":"middle"},"encoding":{"x":{"datum":0.8049,"type":"quantitative","scale":{"domain":[0,1],"nice":false,"zero":false}},"y":{"datum":0.1905,"type":"quantitative","scale":{"domain":[0,1],"nice":false,"zero":false}}}},
   {"data":{"values":[{}]},"mark":{"type":"text","text":"B=1, S=3","fontSize":11.5,"color":"#262626","align":"left","baseline":"middle"},"encoding":{"x":{"datum":0.8049,"type":"quantitative","scale":{"domain":[0,1],"nice":false,"zero":false}},"y":{"datum":0.1268,"type":"quantitative","scale":{"domain":[0,1],"nice":false,"zero":false}}}},
   {"data":{"values":[{}]},"mark":{"type":"text","text":"B=1, S=4","fontSize":11.5,"color":"#262626","align":"left","baseline":"middle"},"encoding":{"x":{"datum":0.8049,"type":"quantitative","scale":{"domain":[0,1],"nice":false,"zero":false}},"y":{"datum":0.0636,"type":"quantitative","scale":{"domain":[0,1],"nice":false,"zero":false}}}},
   {"data":{"values":[{}]},"mark":{"type":"text","text":"P","fontSize":15,"color":"#262626","align":"center","baseline":"middle","angle":270},"encoding":{"x":{"datum":-0.125,"type":"quantitative","scale":{"domain":[0,1],"nice":false,"zero":false}},"y":{"datum":0.485,"type":"quantitative","scale":{"domain":[0,1],"nice":false,"zero":false}}}},
   {"data":{"values":[{}]},"mark":{"type":"text","text":"D","fontSize":11,"color":"#262626","align":"center","baseline":"middle","angle":270},"encoding":{"x":{"datum":-0.1,"type":"quantitative","scale":{"domain":[0,1],"nice":false,"zero":false}},"y":{"datum":0.522,"type":"quantitative","scale":{"domain":[0,1],"nice":false,"zero":false}}}},
   {"data":{"values":[{}]},"mark":{"type":"text","text":"P","fontSize":15,"color":"#262626","align":"center","baseline":"middle"},"encoding":{"x":{"datum":0.492,"type":"quantitative","scale":{"domain":[0,1],"nice":false,"zero":false}},"y":{"datum":-0.124,"type":"quantitative","scale":{"domain":[0,1],"nice":false,"zero":false}}}},
   {"data":{"values":[{}]},"mark":{"type":"text","text":"F","fontSize":11,"color":"#262626","align":"center","baseline":"middle"},"encoding":{"x":{"datum":0.525,"type":"quantitative","scale":{"domain":[0,1],"nice":false,"zero":false}},"y":{"datum":-0.149,"type":"quantitative","scale":{"domain":[0,1],"nice":false,"zero":false}}}},
   {"data":{"values":[{}]},"mark":{"type":"text","text":"b","fontSize":17,"fontWeight":"bold","color":"#000000","align":"left","baseline":"alphabetic"},"encoding":{"x":{"datum":-0.1457,"type":"quantitative","scale":{"domain":[0,1],"nice":false,"zero":false}},"y":{"datum":0.991,"type":"quantitative","scale":{"domain":[0,1],"nice":false,"zero":false}}}}
  ]}
]},
{"bounds":"flush","spacing":13,"hconcat":[
 {"width":179,"height":235,"data":{"values":[{}]},"mark":{"type":"text","text":""}},
 {"width":273,"height":235,
  "layer":[
   {"data":{"name":"aucf"},"mark":{"type":"rect","strokeWidth":0.6},
    "encoding":{
     "x":{"field":"s","type":"quantitative","bin":{"step":0.25,"extent":[0,5]},"scale":{"domain":[0,10],"nice":false,"zero":false},"axis":{"title":"S (counts)","values":[0,2,4,6,8,10],"tickCount":10,"format":"d","grid":false,"domain":false,"ticks":false,"labelPadding":8,"titleY":33,"titleBaseline":"alphabetic","labelOverlap":false}},
     "y":{"field":"b","type":"quantitative","bin":{"step":0.5,"extent":[0,10]},"scale":{"domain":[0,10],"nice":false,"zero":false},"axis":{"title":"B (counts)","values":[0,2,4,6,8,10],"tickCount":10,"format":"d","grid":false,"domain":false,"ticks":false,"labelPadding":4,"titleX":-25,"titleBaseline":"alphabetic","labelOverlap":false}},
     "color":{"field":"a","type":"quantitative","scale":{"domain":[0.5,0.5317,0.5635,0.5952,0.627,0.6587,0.6905,0.7222,0.754,0.7857,0.8175,0.8492,0.881,0.9127,0.9444,0.9762,1],"range":["#3e26a8","#4537d5","#484df0","#4563fd","#327cfc","#2b91ef","#20a5e3","#08b5d0","#19bfb6","#37c897","#64cd6f","#9dc943","#d1bf27","#f8ba3d","#fccf30","#f5e924","#f9fb15"],"interpolate":"rgb","clamp":true},"legend":null},
     "stroke":{"field":"a","type":"quantitative","scale":{"domain":[0.5,0.5317,0.5635,0.5952,0.627,0.6587,0.6905,0.7222,0.754,0.7857,0.8175,0.8492,0.881,0.9127,0.9444,0.9762,1],"range":["#3e26a8","#4537d5","#484df0","#4563fd","#327cfc","#2b91ef","#20a5e3","#08b5d0","#19bfb6","#37c897","#64cd6f","#9dc943","#d1bf27","#f8ba3d","#fccf30","#f5e924","#f9fb15"],"interpolate":"rgb","clamp":true},"legend":null}}},
   {"data":{"name":"aucc"},"mark":{"type":"rect","strokeWidth":0.6},
    "encoding":{
     "x":{"field":"s","type":"quantitative","bin":{"step":0.5,"extent":[5,10]},"scale":{"domain":[0,10],"nice":false,"zero":false},"axis":{"title":"S (counts)","values":[0,2,4,6,8,10],"tickCount":10,"format":"d","grid":false,"domain":false,"ticks":false,"labelPadding":8,"titleY":33,"titleBaseline":"alphabetic","labelOverlap":false}},
     "y":{"field":"b","type":"quantitative","bin":{"step":0.5,"extent":[0,10]},"scale":{"domain":[0,10],"nice":false,"zero":false},"axis":{"title":"B (counts)","values":[0,2,4,6,8,10],"tickCount":10,"format":"d","grid":false,"domain":false,"ticks":false,"labelPadding":4,"titleX":-25,"titleBaseline":"alphabetic","labelOverlap":false}},
     "color":{"field":"a","type":"quantitative","scale":{"domain":[0.5,0.5317,0.5635,0.5952,0.627,0.6587,0.6905,0.7222,0.754,0.7857,0.8175,0.8492,0.881,0.9127,0.9444,0.9762,1],"range":["#3e26a8","#4537d5","#484df0","#4563fd","#327cfc","#2b91ef","#20a5e3","#08b5d0","#19bfb6","#37c897","#64cd6f","#9dc943","#d1bf27","#f8ba3d","#fccf30","#f5e924","#f9fb15"],"interpolate":"rgb","clamp":true},"legend":null},
     "stroke":{"field":"a","type":"quantitative","scale":{"domain":[0.5,0.5317,0.5635,0.5952,0.627,0.6587,0.6905,0.7222,0.754,0.7857,0.8175,0.8492,0.881,0.9127,0.9444,0.9762,1],"range":["#3e26a8","#4537d5","#484df0","#4563fd","#327cfc","#2b91ef","#20a5e3","#08b5d0","#19bfb6","#37c897","#64cd6f","#9dc943","#d1bf27","#f8ba3d","#fccf30","#f5e924","#f9fb15"],"interpolate":"rgb","clamp":true},"legend":null}}},
   {"data":{"values":[{}]},"mark":{"type":"text","text":"c","fontSize":17,"fontWeight":"bold","color":"#000000","align":"left","baseline":"alphabetic"},"encoding":{"x":{"datum":-1.476,"type":"quantitative","scale":{"domain":[0,10],"nice":false,"zero":false}},"y":{"datum":9.957,"type":"quantitative","scale":{"domain":[0,10],"nice":false,"zero":false}}}},
   {"data":{"values":[{}]},"mark":{"type":"text","text":"AUC","fontSize":13,"color":"#262626","align":"center","baseline":"middle","angle":270},"encoding":{"x":{"datum":12.2,"type":"quantitative","scale":{"domain":[0,10],"nice":false,"zero":false}},"y":{"datum":4.64,"type":"quantitative","scale":{"domain":[0,10],"nice":false,"zero":false}}}},
   {"data":{"values":[{}]},"mark":{"type":"text","text":"Poiss","fontSize":10,"color":"#262626","align":"center","baseline":"middle","angle":270},"encoding":{"x":{"datum":12.47,"type":"quantitative","scale":{"domain":[0,10],"nice":false,"zero":false}},"y":{"datum":5.73,"type":"quantitative","scale":{"domain":[0,10],"nice":false,"zero":false}}}}
  ]},
 {"width":11,"height":234,"view":{"stroke":"#9a9a9a","strokeWidth":0.6},
  "data":{"name":"cb"},
  "mark":{"type":"rect","strokeWidth":0.6},
  "encoding":{
   "y":{"field":"v","type":"quantitative","bin":{"step":0.01,"extent":[0.5,1]},"scale":{"domain":[0.5,1],"nice":false,"zero":false},"axis":{"orient":"right","title":null,"values":[0.5,0.55,0.6,0.65,0.7,0.75,0.8,0.85,0.9,0.95],"tickCount":12,"format":".2~f","grid":false,"domain":false,"ticks":true,"tickSize":-3,"tickColor":"#555555","labelPadding":7,"labelFontSize":11.5,"labelOverlap":false}},
   "color":{"field":"v","type":"quantitative","scale":{"domain":[0.5,0.5317,0.5635,0.5952,0.627,0.6587,0.6905,0.7222,0.754,0.7857,0.8175,0.8492,0.881,0.9127,0.9444,0.9762,1],"range":["#3e26a8","#4537d5","#484df0","#4563fd","#327cfc","#2b91ef","#20a5e3","#08b5d0","#19bfb6","#37c897","#64cd6f","#9dc943","#d1bf27","#f8ba3d","#fccf30","#f5e924","#f9fb15"],"interpolate":"rgb","clamp":true},"legend":null},
   "stroke":{"field":"v","type":"quantitative","scale":{"domain":[0.5,0.5317,0.5635,0.5952,0.627,0.6587,0.6905,0.7222,0.754,0.7857,0.8175,0.8492,0.881,0.9127,0.9444,0.9762,1],"range":["#3e26a8","#4537d5","#484df0","#4563fd","#327cfc","#2b91ef","#20a5e3","#08b5d0","#19bfb6","#37c897","#64cd6f","#9dc943","#d1bf27","#f8ba3d","#fccf30","#f5e924","#f9fb15"],"interpolate":"rgb","clamp":true},"legend":null}
  }}
]}
]
}
